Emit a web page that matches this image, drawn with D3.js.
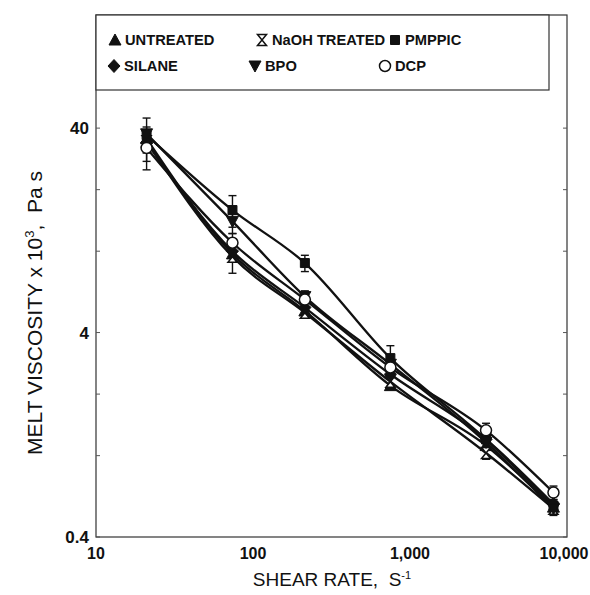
<!DOCTYPE html>
<html>
<head>
<meta charset="utf-8">
<script src="https://cdn.jsdelivr.net/npm/d3@7"></script>
<style>
  html, body { margin: 0; padding: 0; background: #fff; }
  svg { display: block; font-family: 'Liberation Sans', Arial, sans-serif; }
</style>
</head>
<body>
<div id="chart"></div>
<script>
// shear rate (s^-1) for each measured point
const shearRate = [21, 74, 214, 750, 3050, 8200];

// melt viscosity x 10^3, Pa s
const untreated = [35.5, 9.7, 5.1, 2.2, 1.12, 0.56];
const naoh      = [34.5, 9.4, 5.0, 2.3, 1.03, 0.55];
const pmppic    = [37.0, 15.9, 8.75, 3.0, 1.20, 0.57];
const silane    = [34.0, 10.0, 5.3, 2.5, 1.20, 0.58];
const bpo       = [37.5, 14.0, 6.0, 2.8, 1.16, 0.55];
const dcp       = [32.0, 11.0, 5.8, 2.7, 1.33, 0.66];

// error half-widths (0 = no bar drawn)
const untreatedErr = [0, 0, 0, 0, 0, 0.05];
const naohErr      = [0, 0, 0, 0, 0.07, 0];
const pmppicErr    = [0, 2.8, 0.8, 0.45, 0, 0];
const silaneErr    = [6.5, 2.2, 0, 0, 0, 0];
const bpoErr       = [7.3, 1.8, 0.4, 0, 0, 0];
const dcpErr       = [7.0, 0, 0, 0, 0.11, 0.05];

const yTicks = [0.4, 4, 40];
const yTickLabels = ['0.4', '4', '40'];
const yMinor = [1, 2, 10, 20];
const xTicks = [10, 100, 1000, 10000];
const xTickLabels = ['10', '100', '1,000', '10,000'];

const W = 590, H = 595;
const M = { left: 96, right: 23, top: 15, bottom: 58 };
const iW = W - M.left - M.right, iH = H - M.top - M.bottom;

const x = d3.scaleLog().domain([10, 10000]).range([0, iW]);
const y = d3.scaleLog().domain([0.4, 143]).range([iH, 0]);

const ink = '#111';

// marker shapes
const shapes = {
     upTri:   'M0,-6L6,5H-6Z',
     downTri: 'M0,6L6,-5H-6Z',
     square:  'M-4.5,-4.5H4.5V4.5H-4.5Z',
     diamond: 'M0,-6.5L6,0L0,6.5L-6,0Z',
     hour:    'M-4.5,-5.5H4.5L-4.5,5.5H4.5Z'
};

const series = [
     { name: 'UNTREATED',    vals: untreated, err: untreatedErr, shape: 'upTri',   fill: ink },
     { name: 'NaOH TREATED', vals: naoh,      err: naohErr,      shape: 'hour',    fill: '#fff' },
     { name: 'PMPPIC',       vals: pmppic,    err: pmppicErr,    shape: 'square',  fill: ink },
     { name: 'SILANE',       vals: silane,    err: silaneErr,    shape: 'diamond', fill: ink },
     { name: 'BPO',          vals: bpo,       err: bpoErr,       shape: 'downTri', fill: ink },
     { name: 'DCP',          vals: dcp,       err: dcpErr,       shape: 'circle',  fill: '#fff' }
];

function drawMarker(sel, s) {
     if (s.shape === 'circle') {
          sel.append('circle').attr('r', 5.5)
               .attr('fill', s.fill).attr('stroke', ink).attr('stroke-width', 1.5);
     } else {
          sel.append('path').attr('d', shapes[s.shape])
               .attr('fill', s.fill).attr('stroke', ink).attr('stroke-width', s.fill === ink ? 1 : 1.5);
     }
}

const svg = d3.select('#chart').append('svg').attr('width', W).attr('height', H);
const g = svg.append('g').attr('transform', `translate(${M.left},${M.top})`);

// frame
g.append('rect').attr('width', iW).attr('height', iH)
     .attr('fill', 'none').attr('stroke', '#333').attr('stroke-width', 1.2);

// ticks (inward)
yTicks.concat(yMinor).forEach(v => {
     g.append('line').attr('x1', 0).attr('x2', 4).attr('y1', y(v)).attr('y2', y(v)).attr('stroke', '#555');
     g.append('line').attr('x1', iW).attr('x2', iW - 4).attr('y1', y(v)).attr('y2', y(v)).attr('stroke', '#555');
});

g.selectAll('.ylbl').data(yTicks).join('text')
     .attr('x', -7).attr('y', d => y(d)).attr('dy', '0.35em')
     .attr('text-anchor', 'end').attr('font-size', 17).attr('font-weight', 'bold').attr('fill', ink)
     .text((d, i) => yTickLabels[i]);

// last label is kept inside the window
g.selectAll('.xlbl').data(xTicks).join('text')
     .attr('x', (d, i) => x(d) - (i === xTicks.length - 1 ? 3 : 0)).attr('y', iH + 22)
     .attr('text-anchor', 'middle').attr('font-size', 16).attr('font-weight', 'bold').attr('fill', ink)
     .text((d, i) => xTickLabels[i]);

// axis titles
svg.append('text').attr('x', 332).attr('y', 586).attr('text-anchor', 'middle')
     .attr('font-size', 19).attr('fill', ink)
     .html('SHEAR RATE,&#160;&#160;S<tspan dy="-7" font-size="11">-1</tspan>');

svg.append('text').attr('transform', 'translate(42,313) rotate(-90)').attr('text-anchor', 'middle')
     .attr('font-size', 21).attr('fill', ink)
     .html('MELT VISCOSITY x 10<tspan dy="-8" font-size="13">3</tspan><tspan dy="8">,&#160;&#160;Pa s</tspan>');

// curves
const line = d3.line()
     .x((d, i) => x(shearRate[i]))
     .y(d => y(d))
     .curve(d3.curveMonotoneX);

series.forEach(s => {
     g.append('path').datum(s.vals).attr('d', line)
          .attr('fill', 'none').attr('stroke', ink).attr('stroke-width', 2.3);
});

// error bars
series.forEach(s => {
     s.vals.forEach((v, i) => {
          const e = s.err[i];
          if (!e) return;
          const cx = x(shearRate[i]), y1 = y(v + e), y2 = y(v - e);
          const eb = g.append('g').attr('stroke', ink).attr('stroke-width', 1.4);
          eb.append('line').attr('x1', cx).attr('x2', cx).attr('y1', y1).attr('y2', y2);
          eb.append('line').attr('x1', cx - 4).attr('x2', cx + 4).attr('y1', y1).attr('y2', y1);
          eb.append('line').attr('x1', cx - 4).attr('x2', cx + 4).attr('y1', y2).attr('y2', y2);
     });
});

// markers
series.forEach(s => {
     s.vals.forEach((v, i) => {
          const m = g.append('g').attr('transform', `translate(${x(shearRate[i])},${y(v)})`);
          drawMarker(m, s);
     });
});

// legend
const lg = svg.append('g');
lg.append('rect').attr('x', 96).attr('y', 15).attr('width', 453).attr('height', 75)
     .attr('fill', '#fff').attr('stroke', '#333').attr('stroke-width', 1.2);

const legendPos = [
     [115, 40], [262, 40], [395, 40],
     [114, 66], [255, 66], [385, 66]
];
series.forEach((s, i) => {
     const [lx, ly] = legendPos[i];
     const m = lg.append('g').attr('transform', `translate(${lx},${ly})`);
     drawMarker(m, s);
     lg.append('text').attr('x', lx + 10).attr('y', ly).attr('dy', '0.35em')
          .attr('font-size', 14.7).attr('font-weight', 'bold').attr('fill', ink)
          .text(s.name);
});
</script>
</body>
</html>
